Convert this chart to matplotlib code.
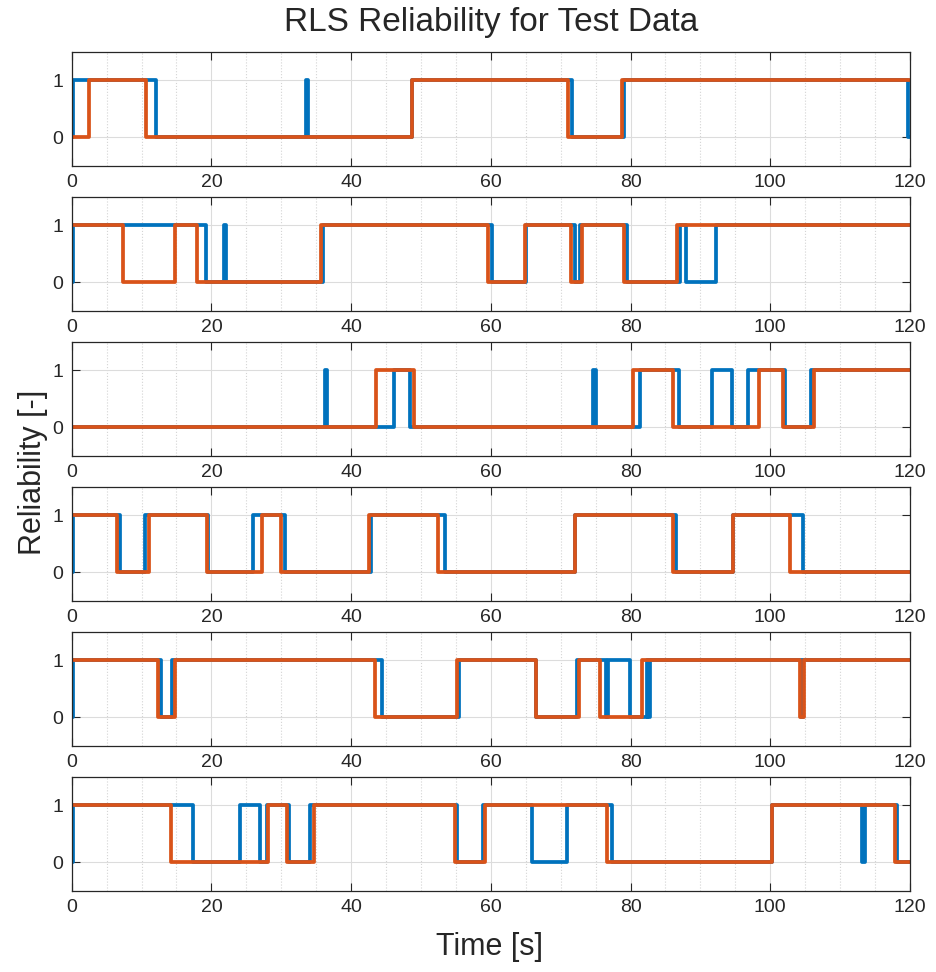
import matplotlib.pyplot as plt
from matplotlib.ticker import MultipleLocator

# tiempos de cambio (s) y nivel que sigue a cada cambio, un par por subgrafico
# azul
b1_t = [0, 0.15, 12.0, 33.55, 33.85, 48.7, 71.6, 79.0, 119.7, 120]
b1_y = [0, 1, 0, 1, 0, 1, 0, 1, 0, 0]
b2_t = [0, 0.15, 19.2, 21.8, 22.05, 36.0, 60.2, 65.1, 72.1, 72.8, 79.5, 87.1, 88.0, 92.2, 120]
b2_y = [0, 1, 0, 1, 0, 1, 0, 1, 0, 1, 0, 1, 0, 1, 1]
b3_t = [0, 36.2, 36.5, 46.2, 48.4, 74.65, 75.0, 81.4, 86.9, 91.7, 94.5, 96.85, 102.1, 105.8, 120]
b3_y = [0, 1, 0, 1, 0, 1, 0, 1, 0, 1, 0, 1, 0, 1, 1]
b4_t = [0, 0.15, 6.9, 10.5, 19.5, 26.0, 30.5, 42.8, 53.4, 72.0, 86.5, 94.7, 104.7, 120]
b4_y = [0, 1, 0, 1, 0, 1, 0, 1, 0, 1, 0, 1, 0, 0]
b5_t = [0, 0.15, 12.8, 14.4, 44.4, 55.4, 66.5, 72.4, 76.5, 76.8, 79.9, 82.3, 82.5, 82.8, 104.4, 104.7, 120]
b5_y = [0, 1, 0, 1, 0, 1, 0, 1, 0, 1, 0, 1, 0, 1, 0, 1, 1]
b6_t = [0, 0.15, 17.3, 24.1, 26.9, 28.0, 31.15, 34.1, 55.1, 58.9, 65.85, 70.95, 77.4, 100.2, 113.2, 113.6, 118.1, 120]
b6_y = [0, 1, 0, 1, 0, 1, 0, 1, 0, 1, 0, 1, 0, 1, 0, 1, 0, 0]

# naranja
o1_t = [0, 2.5, 10.7, 48.7, 71.1, 78.8, 120]
o1_y = [0, 1, 0, 1, 0, 1, 1]
o2_t = [0, 7.4, 14.8, 18.0, 35.7, 59.6, 64.9, 71.5, 73.1, 79.0, 86.7, 120]
o2_y = [1, 0, 1, 0, 1, 0, 1, 0, 1, 0, 1, 1]
o3_t = [0, 43.6, 49.0, 80.3, 86.1, 98.4, 101.8, 106.3, 120]
o3_y = [0, 1, 0, 1, 0, 1, 0, 1, 1]
o4_t = [0, 6.5, 11.0, 19.3, 27.3, 30.0, 42.6, 52.4, 72.0, 86.1, 94.7, 102.8, 120]
o4_y = [1, 0, 1, 0, 1, 0, 1, 0, 1, 0, 1, 0, 0]
o5_t = [0, 12.4, 14.8, 43.4, 55.2, 66.5, 72.6, 75.6, 81.6, 104.3, 104.8, 120]
o5_y = [1, 0, 1, 0, 1, 0, 1, 0, 1, 0, 1, 1]
o6_t = [0, 14.2, 28.1, 30.8, 34.7, 54.8, 59.2, 76.6, 100.2, 117.85, 120]
o6_y = [1, 0, 1, 0, 1, 0, 1, 0, 1, 0, 0]

azules = [(b1_t, b1_y), (b2_t, b2_y), (b3_t, b3_y), (b4_t, b4_y), (b5_t, b5_y), (b6_t, b6_y)]
naranjas = [(o1_t, o1_y), (o2_t, o2_y), (o3_t, o3_y), (o4_t, o4_y), (o5_t, o5_y), (o6_t, o6_y)]

plt.rcParams['font.family'] = ['Liberation Sans', 'DejaVu Sans']

W, H = 937, 972
fig = plt.figure(figsize=(W / 100, H / 100), dpi=100)

azul = '#0072BD'
naranja = '#D95319'
gris = '#262626'

for k in range(6):
    top = 51.7 + 145 * k
    ax = fig.add_axes([71.7 / W, 1 - (top + 114) / H, 838.3 / W, 114 / H])
    ax.plot(*azules[k], drawstyle='steps-post', color=azul, lw=2.7)
    ax.plot(*naranjas[k], drawstyle='steps-post', color=naranja, lw=2.7)
    ax.set_xlim(0, 120)
    ax.set_ylim(-0.5, 1.5)
    ax.set_yticks([0, 1])
    ax.xaxis.set_major_locator(MultipleLocator(20))
    ax.xaxis.set_minor_locator(MultipleLocator(5))
    ax.grid(True, which='major', color='#dcdcdc', lw=0.8)
    ax.grid(True, which='minor', axis='x', color='#d4d4d4', lw=0.8, ls=':')
    ax.tick_params(which='both', direction='in', top=True, right=True,
                   colors=gris, labelsize=14, pad=6)
    ax.tick_params(which='major', length=6)
    ax.tick_params(which='minor', length=0)
    for s in ax.spines.values():
        s.set_color(gris)
        s.set_linewidth(0.9)
    ax.set_axisbelow(True)

fig.text(491 / W, 1 - 22 / H, 'RLS Reliability for Test Data', ha='center', va='center',
         fontsize=24, color=gris)
fig.text(490 / W, 1 - 947 / H, 'Time [s]', ha='center', va='center', fontsize=22, color=gris)
fig.text(33 / W, 1 - 472 / H, 'Reliability [-]', ha='center', va='center', rotation=90,
         fontsize=22, color=gris)

fig.savefig('out.png', dpi=100)
